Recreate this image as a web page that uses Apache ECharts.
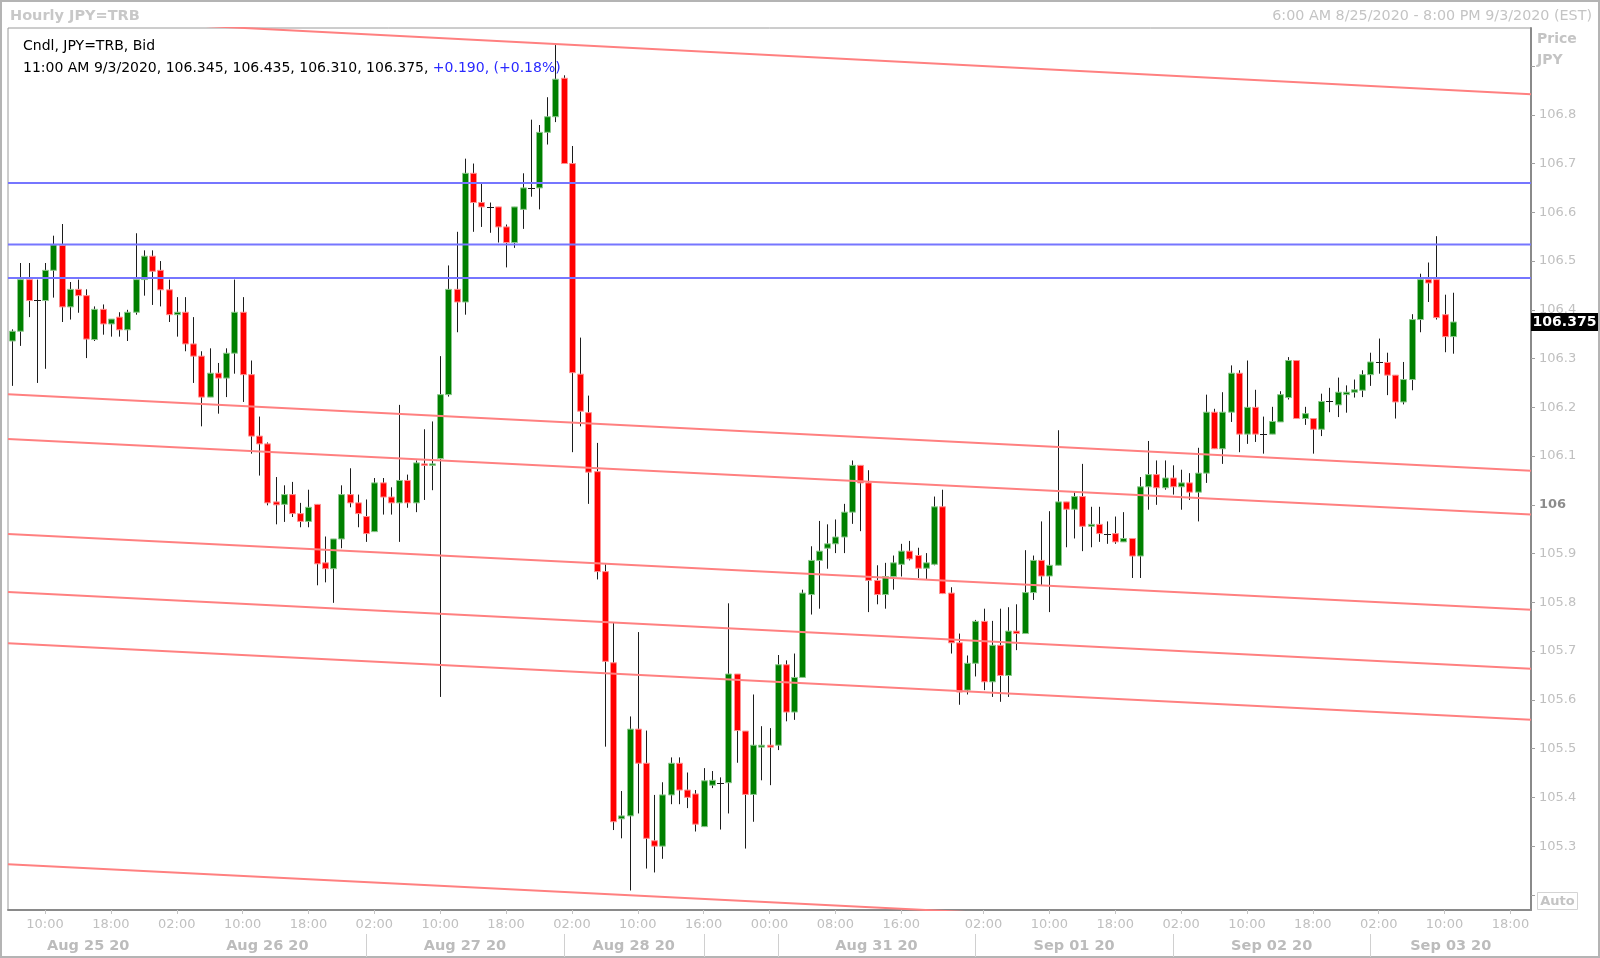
<!DOCTYPE html>
<html>
<head>
<meta charset="utf-8">
<script src="https://cdn.jsdelivr.net/npm/echarts@6/dist/echarts.min.js"></script>
<style>
html,body{margin:0;padding:0;background:#fff;}
#c{width:1600px;height:958px;}
</style>
</head>
<body>
<div id="c"></div>
<script>
// ---- data (hourly JPY=TRB, [open, high, low, close]) ----
const candles = [
[106.336,106.360,106.244,106.356],[106.356,106.496,106.326,106.462],[106.462,106.496,106.385,106.419],[106.420,106.462,106.250,106.420],
[106.419,106.496,106.279,106.481],[106.481,106.552,106.425,106.533],[106.532,106.576,106.375,106.406],[106.406,106.457,106.380,106.442],
[106.442,106.462,106.394,106.429],[106.429,106.442,106.301,106.340],[106.339,106.407,106.336,106.401],[106.401,106.411,106.349,106.371],
[106.371,106.381,106.345,106.381],[106.385,106.395,106.345,106.359],[106.359,106.400,106.336,106.395],[106.395,106.557,106.390,106.462],
[106.462,106.522,106.429,106.510],[106.510,106.522,106.410,106.479],[106.481,106.500,106.407,106.441],[106.441,106.462,106.375,106.390],
[106.390,106.426,106.345,106.395],[106.395,106.426,106.315,106.330],[106.330,106.385,106.250,106.305],[106.305,106.315,106.161,106.221],
[106.221,106.321,106.221,106.270],[106.270,106.291,106.187,106.260],[106.260,106.321,106.221,106.311],[106.311,106.462,106.269,106.395],
[106.395,106.426,106.211,106.267],[106.267,106.296,106.105,106.141],[106.141,106.181,106.060,106.125],[106.125,106.128,105.999,106.004],
[106.006,106.057,105.960,106.000],[106.001,106.040,105.965,106.021],[106.021,106.047,105.975,105.982],[105.982,106.004,105.954,105.966],
[105.966,106.031,105.954,105.995],[106.001,106.001,105.835,105.879],[105.881,105.935,105.841,105.869],[105.869,105.930,105.799,105.930],
[105.930,106.040,105.911,106.021],[106.021,106.075,105.995,106.004],[106.004,106.021,105.954,105.982],[105.976,106.011,105.924,105.941],
[105.945,106.055,105.945,106.045],[106.045,106.055,105.980,106.016],[106.016,106.036,105.980,106.004],[106.004,106.205,105.924,106.050],
[106.050,106.062,105.994,106.004],[106.004,106.091,105.985,106.086],[106.084,106.155,106.010,106.081],[106.081,106.171,106.030,106.084],
[106.095,106.305,105.606,106.226],[106.226,106.491,106.222,106.442],[106.442,106.560,106.354,106.416],[106.416,106.710,106.390,106.680],
[106.680,106.700,106.560,106.620],[106.620,106.660,106.570,106.611],[106.611,106.620,106.558,106.611],[106.611,106.611,106.538,106.570],
[106.570,106.575,106.487,106.538],[106.538,106.611,106.527,106.611],[106.606,106.680,106.566,106.650],[106.650,106.790,106.632,106.650],
[106.650,106.779,106.606,106.764],[106.764,106.836,106.739,106.796],[106.796,106.943,106.785,106.873],[106.875,106.881,106.700,106.700],
[106.700,106.736,106.108,106.271],[106.268,106.343,106.161,106.192],[106.189,106.224,106.002,106.067],[106.068,106.127,105.847,105.863],
[105.863,105.878,105.504,105.679],[105.676,105.759,105.333,105.350],[105.356,105.413,105.316,105.362],[105.362,105.566,105.209,105.540],
[105.540,105.739,105.367,105.470],[105.470,105.537,105.254,105.316],[105.311,105.405,105.246,105.300],[105.300,105.431,105.274,105.405],
[105.405,105.482,105.386,105.470],[105.470,105.482,105.386,105.415],[105.415,105.451,105.378,105.400],[105.407,105.415,105.330,105.345],
[105.340,105.460,105.340,105.434],[105.425,105.454,105.419,105.435],[105.430,105.441,105.334,105.430],[105.430,105.798,105.367,105.653],
[105.653,105.653,105.471,105.537],[105.536,105.536,105.295,105.406],[105.406,105.611,105.350,105.507],[105.503,105.546,105.435,105.507],
[105.507,105.542,105.425,105.503],[105.507,105.692,105.497,105.672],[105.672,105.681,105.556,105.575],[105.575,105.695,105.559,105.646],
[105.646,105.826,105.646,105.819],[105.816,105.915,105.775,105.886],[105.886,105.967,105.787,105.905],[105.911,105.960,105.869,105.920],
[105.920,105.970,105.901,105.934],[105.934,106.002,105.901,105.985],[105.985,106.091,105.961,106.081],[106.081,106.081,105.946,106.045],
[106.045,106.071,105.780,105.845],[105.845,105.876,105.796,105.816],[105.816,105.881,105.787,105.853],[105.853,105.896,105.826,105.881],
[105.878,105.920,105.853,105.905],[105.905,105.926,105.886,105.889],[105.896,105.912,105.850,105.870],[105.870,105.901,105.848,105.881],
[105.878,106.017,105.876,105.996],[105.996,106.031,105.817,105.818],[105.819,105.831,105.695,105.717],[105.717,105.736,105.590,105.616],
[105.620,105.691,105.611,105.675],[105.675,105.764,105.648,105.761],[105.761,105.787,105.620,105.637],[105.637,105.762,105.606,105.712],
[105.712,105.787,105.596,105.650],[105.650,105.790,105.606,105.741],[105.741,105.796,105.702,105.736],[105.736,105.907,105.736,105.820],
[105.820,105.896,105.805,105.886],[105.886,105.966,105.835,105.854],[105.854,105.987,105.780,105.876],[105.876,106.153,105.876,106.006],
[106.006,106.006,105.913,105.991],[105.991,106.026,105.931,106.017],[106.017,106.084,105.905,105.956],[105.956,105.996,105.913,105.960],
[105.960,105.996,105.924,105.941],[105.941,105.966,105.920,105.941],[105.941,105.976,105.920,105.924],[105.924,105.985,105.924,105.931],
[105.931,105.931,105.850,105.895],[105.895,106.057,105.850,106.037],[106.037,106.131,105.990,106.062],[106.062,106.091,106.000,106.035],
[106.035,106.091,106.031,106.055],[106.055,106.081,106.021,106.037],[106.037,106.072,105.990,106.045],[106.045,106.065,106.010,106.026],
[106.026,106.117,105.966,106.065],[106.065,106.226,106.045,106.190],[106.190,106.197,106.115,106.115],[106.115,106.231,106.084,106.190],
[106.190,106.286,106.170,106.270],[106.270,106.276,106.108,106.145],[106.145,106.296,106.125,106.200],[106.200,106.236,106.129,106.145],
[106.145,106.181,106.105,106.145],[106.145,106.201,106.145,106.171],[106.170,106.233,106.170,106.226],[106.220,106.303,106.216,106.296],
[106.296,106.296,106.177,106.177],[106.177,106.201,106.164,106.187],[106.177,106.177,106.105,106.155],[106.155,106.228,106.141,106.212],
[106.212,106.240,106.190,106.212],[106.205,106.261,106.180,106.231],[106.226,106.245,106.189,106.231],[106.231,106.257,106.220,106.236],
[106.235,106.276,106.221,106.267],[106.267,106.312,106.244,106.293],[106.292,106.341,106.269,106.292],[106.292,106.312,106.225,106.266],
[106.266,106.266,106.177,106.211],[106.211,106.293,106.206,106.257],[106.257,106.391,106.235,106.380],[106.380,106.474,106.354,106.462],
[106.462,106.497,106.416,106.455],[106.462,106.551,106.380,106.384],[106.390,106.431,106.313,106.345],[106.345,106.435,106.310,106.375]
];
const slotCount = 185;                       // hourly slots 6:00 AM 8/25 .. 8:00 PM 9/3 (weekend removed)
const tickIdx    = [4,12,20,28,36,44,52,60,68,76,84,92,100,108,118,126,134,142,150,158,166,174,182];
const tickLabels = ['10:00','18:00','02:00','10:00','18:00','02:00','10:00','18:00','02:00','10:00','16:00','00:00',
                    '08:00','16:00','02:00','10:00','18:00','02:00','10:00','18:00','02:00','10:00','18:00'];
const dateLabels = ['Aug 25 20','Aug 26 20','Aug 27 20','Aug 28 20','Aug 31 20','Sep 01 20','Sep 02 20','Sep 03 20'];
const dateSpans  = [[-0.5,19],[19,43],[43,67],[67,84],[93,117],[117,141],[141,165],[165,184.5]];
const dateSeparators = [43,67,84,93,117,141,165];
const levelLines = [106.660, 106.534, 106.465];
const channelLeft  = [107.003, 106.227, 106.135, 105.940, 105.821, 105.716, 105.263];
const channelRight = [106.842, 106.070, 105.980, 105.785, 105.664, 105.559, 105.107];
const lastPrice = 106.375;
const yMin = 105.169, yMax = 106.978;

// ---- chart ----
const FONT = '"DejaVu Sans", Verdana, sans-serif';
const categories = Array.from({length: slotCount}, (_, i) => String(i));
const labelMap = {};
tickIdx.forEach((k, j) => { labelMap[k] = tickLabels[j]; });

function renderCandle(params, api) {
  const x = api.value(0);
  const o = api.value(1), h = api.value(2), l = api.value(3), c = api.value(4);
  const pO = api.coord([x, o]), pC = api.coord([x, c]);
  const pH = api.coord([x, h]), pL = api.coord([x, l]);
  const cx = Math.round(pO[0]) + 0.5;
  const children = [{
    type: 'line',
    shape: {x1: cx, y1: pH[1], x2: cx, y2: pL[1]},
    style: {stroke: '#1c1c1c', lineWidth: 1}
  }];
  if (o === c) {
    children.push({type: 'line', shape: {x1: cx - 3.5, y1: Math.round(pO[1]) + 0.5, x2: cx + 3.5, y2: Math.round(pO[1]) + 0.5},
      style: {stroke: '#1c1c1c', lineWidth: 1}});
  } else {
    const up = c > o;
    const top = Math.min(pO[1], pC[1]);
    const hh = Math.max(Math.abs(pO[1] - pC[1]), 1.5);
    children.push({type: 'rect', shape: {x: cx - 3, y: top, width: 6, height: hh},
      style: {fill: up ? '#008000' : '#ff0000', stroke: up ? '#8cc88c' : '#ff9090', lineWidth: 1}});
  }
  return {type: 'group', children};
}

const series = [{
  type: 'custom',
  name: 'JPY=TRB',
  xAxisIndex: 0, yAxisIndex: 0,
  renderItem: renderCandle,
  encode: {x: 0, y: [1, 2, 3, 4]},
  data: candles.map((d, i) => [i, d[0], d[1], d[2], d[3]]),
  z: 2
}];
channelLeft.forEach((v, k) => {
  series.push({
    type: 'line', xAxisIndex: 1, yAxisIndex: 0, silent: true, symbol: 'none', clip: true, z: 3,
    lineStyle: {color: '#ff8080', width: 2},
    data: [[-0.5, v], [slotCount - 0.5, channelRight[k]]]
  });
});
levelLines.forEach(v => {
  series.push({
    type: 'line', xAxisIndex: 1, yAxisIndex: 0, silent: true, symbol: 'none', clip: true, z: 3,
    lineStyle: {color: '#7676ff', width: 2},
    data: [[-0.5, v], [slotCount - 0.5, v]]
  });
});

const chart = echarts.init(document.getElementById('c'), null, {renderer: 'canvas'});
chart.setOption({
  backgroundColor: '#ffffff',
  animation: false,
  grid: {left: 8, right: 69, top: 28, bottom: 48, show: true, borderColor: '#9a9a9a', borderWidth: 1, backgroundColor: '#ffffff'},
  xAxis: [{
    type: 'category', data: categories, boundaryGap: true, position: 'bottom',
    axisLine: {show: true, lineStyle: {color: '#8a8a8a', width: 2}},
    axisTick: {show: true, alignWithLabel: true, length: 4, interval: (i) => labelMap[i] !== undefined, lineStyle: {color: '#c4c4c4'}},
    axisLabel: {show: true, interval: (i) => labelMap[i] !== undefined, formatter: (v, i) => labelMap[i] || '',
      color: '#c0c0c0', fontSize: 13, fontFamily: FONT, margin: 8},
    splitLine: {show: false}
  }, {
    type: 'value', min: -0.5, max: slotCount - 0.5, show: false
  }],
  yAxis: [{
    type: 'value', position: 'right', min: yMin, max: yMax, splitNumber: 18, scale: true,
    axisLine: {show: true, onZero: false, lineStyle: {color: '#8a8a8a', width: 2}},
    axisTick: {show: true, length: 4, lineStyle: {color: '#a0a0a0'}},
    splitLine: {show: false},
    axisLabel: {
      show: true, margin: 8, color: '#c0c0c0', fontSize: 13, fontFamily: FONT,
      showMinLabel: false, showMaxLabel: false,
      formatter: (v) => {
        const t = Math.round(v * 10);
        if (Math.abs(v * 10 - t) > 1e-6) return '';
        if (v < 105.25 || v > 106.85) return '';
        if (t === 1060) return '{b|106}';
        return (t / 10).toFixed(1);
      },
      rich: {b: {fontWeight: 'bold', color: '#8c8c8c', fontSize: 13, fontFamily: FONT}}
    }
  }],
  series: series
});

// ---- annotations positioned through the chart's scales ----
const xPix = (i) => chart.convertToPixel({xAxisIndex: 1}, i);
const yPix = (v) => chart.convertToPixel({yAxisIndex: 0}, v);
const graphics = [];
graphics.push({type: 'rect', shape: {x: 1, y: 1, width: 1598, height: 956}, style: {fill: 'none', stroke: '#b4b4b4', lineWidth: 2}, z: 100});
graphics.push({type: 'text', x: 10, y: 16, style: {text: 'Hourly JPY=TRB', font: 'bold 14.5px ' + FONT, fill: '#c8c8c8', align: 'left', verticalAlign: 'middle'}, z: 100});
graphics.push({type: 'text', x: 1592, y: 16, style: {text: '6:00 AM 8/25/2020 - 8:00 PM 9/3/2020 (EST)', font: '14.3px ' + FONT, fill: '#c4c4c4', align: 'right', verticalAlign: 'middle'}, z: 100});
graphics.push({type: 'text', x: 1537, y: 39, style: {text: 'Price', font: 'bold 14px ' + FONT, fill: '#c4c4c4', align: 'left', verticalAlign: 'middle'}, z: 100});
graphics.push({type: 'text', x: 1537, y: 60, style: {text: 'JPY', font: 'bold 14px ' + FONT, fill: '#c4c4c4', align: 'left', verticalAlign: 'middle'}, z: 100});
graphics.push({type: 'text', x: 23, y: 46, style: {text: 'Cndl, JPY=TRB, Bid', font: '14px ' + FONT, fill: '#000000', align: 'left', verticalAlign: 'middle'}, z: 100});
graphics.push({type: 'text', x: 23, y: 68, style: {
  text: '{a|11:00 AM 9/3/2020, 106.345, 106.435, 106.310, 106.375, }{b|+0.190, (+0.18%)}',
  align: 'left', verticalAlign: 'middle',
  rich: {a: {fill: '#000000', fontSize: 14, fontFamily: FONT}, b: {fill: '#2a2aff', fontSize: 14, fontFamily: FONT}}
}, z: 100});
// Auto box
graphics.push({type: 'rect', shape: {x: 1537.5, y: 892.5, width: 40, height: 17}, style: {fill: '#ffffff', stroke: '#d4d4d4', lineWidth: 1}, z: 100});
graphics.push({type: 'text', x: 1557.5, y: 901.5, style: {text: 'Auto', font: 'bold 13px ' + FONT, fill: '#c4c4c4', align: 'center', verticalAlign: 'middle'}, z: 101});
// last price box
const yp = yPix(lastPrice);
graphics.push({type: 'rect', shape: {x: 1531, y: yp - 9, width: 67, height: 18}, style: {fill: '#000000'}, z: 100});
graphics.push({type: 'text', x: 1564.5, y: yp, style: {text: lastPrice.toFixed(3), font: 'bold 14px ' + FONT, fill: '#ffffff', align: 'center', verticalAlign: 'middle'}, z: 101});
// date labels + separators
dateLabels.forEach((t, k) => {
  const xc = (xPix(dateSpans[k][0]) + xPix(dateSpans[k][1])) / 2;
  graphics.push({type: 'text', x: xc, y: 946, style: {text: t, font: 'bold 14.5px ' + FONT, fill: '#bcbcbc', align: 'center', verticalAlign: 'middle'}, z: 100});
});
dateSeparators.forEach(i => {
  const xs = Math.round(xPix(i)) + 0.5;
  graphics.push({type: 'line', shape: {x1: xs, y1: 934, x2: xs, y2: 957}, style: {stroke: '#d0d0d0', lineWidth: 1}, z: 100});
});
chart.setOption({graphic: graphics});
</script>
</body>
</html>
